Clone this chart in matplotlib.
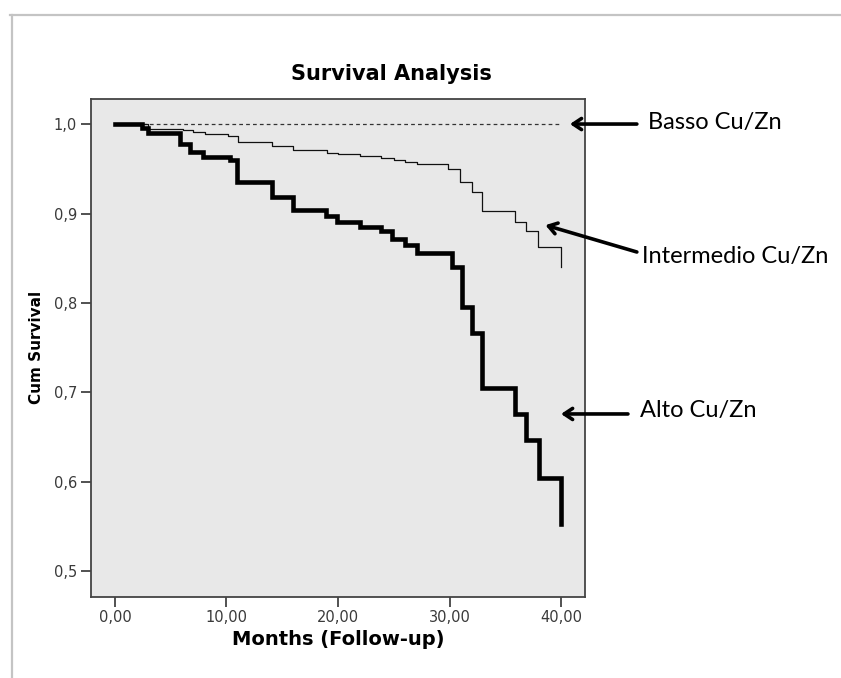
import matplotlib
matplotlib.use('Agg')
import matplotlib.pyplot as plt
from matplotlib.lines import Line2D

# Kaplan-Meier steps (months, cumulative survival)
alto_t = [0, 2.4, 3.0, 5.8, 6.7, 7.9, 10.3, 10.9, 14.1, 16.0, 18.9, 19.9, 22.0,
          23.9, 24.8, 26.0, 27.1, 30.2, 31.1, 32.0, 32.9, 35.9, 36.9, 38.0, 40.0]
alto_s = [1.0, 0.996, 0.990, 0.978, 0.969, 0.963, 0.960, 0.935, 0.918, 0.904, 0.897,
          0.891, 0.885, 0.880, 0.872, 0.865, 0.856, 0.840, 0.796, 0.766, 0.705,
          0.676, 0.647, 0.604, 0.553]

inter_t = [0, 3.0, 6.1, 7.0, 8.1, 10.1, 11.0, 14.1, 16.0, 19.0, 20.0, 22.0, 23.9,
           25.0, 26.0, 27.1, 29.9, 30.9, 32.0, 32.9, 35.9, 36.9, 37.9, 40.0]
inter_s = [1.0, 0.995, 0.993, 0.991, 0.989, 0.987, 0.980, 0.975, 0.971, 0.968, 0.966,
           0.964, 0.962, 0.960, 0.958, 0.955, 0.950, 0.935, 0.924, 0.903, 0.891,
           0.880, 0.863, 0.840]

basso_t = [0, 40.0]
basso_s = [1.0, 1.0]

x_ticks = [0, 10, 20, 30, 40]
x_labels = ['0,00', '10,00', '20,00', '30,00', '40,00']
y_ticks = [0.5, 0.6, 0.7, 0.8, 0.9, 1.0]
y_labels = ['0,5', '0,6', '0,7', '0,8', '0,9', '1,0']

group_names = ['Basso Cu/Zn', 'Intermedio Cu/Zn', 'Alto Cu/Zn']
# arrow tip / tail and label anchor, in data coordinates
arrow_tips = [(40.8, 1.0), (38.6, 0.887), (40.0, 0.676)]
arrow_tails = [(46.8, 1.0), (46.8, 0.857), (46.0, 0.676)]
label_pos = [(47.8, 1.0015), (47.3, 0.852), (47.1, 0.680)]

fig = plt.figure(figsize=(8.41, 6.78), dpi=100)
ax = fig.add_axes([0.1082, 0.1202, 0.5874, 0.7338])
ax.set_facecolor('#e8e8e8')

ax.step(basso_t, basso_s, where='post', color='#333333', lw=0.9, ls=(0, (3, 2.5)))
ax.step(inter_t, inter_s, where='post', color='#111111', lw=0.9)
ax.step(alto_t, alto_s, where='post', color='black', lw=3.3, solid_joinstyle='miter')

ax.set_xlim(-2.15, 42.15)
ax.set_ylim(0.472, 1.028)
ax.set_xticks(x_ticks)
ax.set_xticklabels(x_labels)
ax.set_yticks(y_ticks)
ax.set_yticklabels(y_labels)
ax.tick_params(direction='out', length=7, width=1.2, color='#333333',
               labelsize=10.5, labelcolor='#3a3a3a', pad=3)
for sp in ax.spines.values():
    sp.set_color('#444444')
    sp.set_linewidth(1.3)

# title is centred over the whole chart area, not just the axes
fig.text(0.465, 0.891, 'Survival Analysis', fontsize=15, fontweight='bold',
         ha='center', va='center')
ax.set_xlabel('Months (Follow-up)', fontsize=14, fontweight='bold', labelpad=3)
ax.set_ylabel('Cum Survival', fontsize=11, fontweight='bold', labelpad=7)

for name, tip, tail, pos in zip(group_names, arrow_tips, arrow_tails, label_pos):
    ax.annotate('', xy=tip, xytext=tail, xycoords='data', textcoords='data',
                annotation_clip=False,
                arrowprops=dict(arrowstyle='->,head_length=0.6,head_width=0.4',
                                lw=2.6, color='black', shrinkA=0, shrinkB=0))
    ax.text(pos[0], pos[1], name, fontsize=17, family='Lato', va='center',
            ha='left', clip_on=False)

# outer grey frame of the picture
fig.add_artist(Line2D([0.012, 1.0], [0.978, 0.978], color='#c4c4c4', lw=1.6))
fig.add_artist(Line2D([0.014, 0.014], [0.0, 0.978], color='#c4c4c4', lw=1.6))

fig.savefig('out.png', dpi=100)
